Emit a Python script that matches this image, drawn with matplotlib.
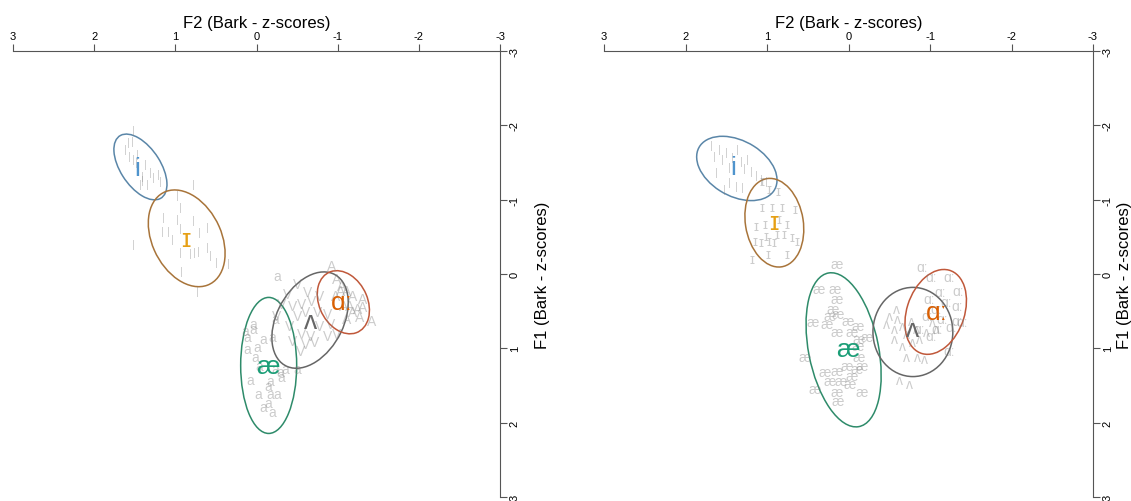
import matplotlib
matplotlib.use("Agg")
import matplotlib.pyplot as plt
from matplotlib.patches import Ellipse

plt.rcParams['font.family'] = ['Liberation Sans', 'DejaVu Sans']

# vowel order and colours
vowels = ['i', 'ɪ', 'æ', 'ʌ', 'ɑː']
mean_colors = ['#4f94cd', '#e6a015', '#1b9e77', '#666666', '#d95f02']
ellipse_colors = ['#5a86a8', '#a8743a', '#2e8b6a', '#666666', '#c0583a']

# ---- left panel: tokens (F2, F1) in Bark z-scores ----
left_i_tokens = [(1.52, -1.94), (1.58, -1.78), (1.56, -1.59), (1.52, -1.55), (1.48, -1.50),
                 (1.46, -1.40), (1.41, -1.32), (1.40, -1.27), (1.31, -1.37), (1.27, -1.31),
                 (1.21, -1.35), (1.34, -1.21), (1.43, -1.21), (1.18, -1.25), (1.53, -1.79),
                 (1.47, -1.62), (1.61, -1.68), (1.37, -1.48)]
left_I_tokens = [(0.78, -1.21), (0.97, -1.06), (0.94, -0.90), (0.98, -0.74), (1.15, -0.77),
                 (1.16, -0.58), (1.09, -0.58), (1.04, -0.47), (0.94, -0.62), (0.78, -0.73),
                 (0.61, -0.63), (0.70, -0.57), (1.52, -0.40), (0.94, -0.30), (0.82, -0.28),
                 (0.76, -0.30), (0.72, -0.31), (0.60, -0.36), (0.57, -0.26), (0.35, -0.15),
                 (0.49, -0.16), (0.92, -0.04), (0.73, 0.23)]
left_ae_tokens = [(-0.25, 0.03), (0.04, 0.67), (0.14, 0.77), (0.12, 0.85), (0.04, 0.74),
                  (-0.08, 0.88), (-0.19, 0.85), (0.12, 1.01), (-0.01, 0.98), (0.02, 1.11),
                  (-0.04, 1.24), (-0.23, 1.28), (-0.29, 1.32), (-0.31, 1.39), (-0.17, 1.44),
                  (0.08, 1.42), (-0.14, 1.51), (-0.17, 1.62), (-0.02, 1.62), (-0.25, 1.62),
                  (-0.14, 1.73), (-0.08, 1.79), (-0.19, 1.86), (-0.35, 1.28), (-0.23, 0.61),
                  (-0.50, 1.28)]
left_v_tokens = [(-0.50, 0.13), (-0.63, 0.24), (-0.38, 0.27), (-0.31, 0.40), (-0.44, 0.43),
                 (-0.56, 0.40), (-0.68, 0.36), (-0.78, 0.30), (-0.50, 0.57), (-0.60, 0.51),
                 (-0.75, 0.51), (-0.87, 0.54), (-0.91, 0.67), (-0.78, 0.70), (-0.66, 0.84),
                 (-0.56, 0.81), (-0.45, 0.90), (-0.60, 0.94), (-0.72, 0.92), (-0.87, 0.84),
                 (-0.99, 0.81), (-0.54, 1.04), (-0.41, 0.70), (-0.25, 0.57)]
left_a_tokens = [(-0.93, -0.11), (-0.99, 0.07), (-1.05, 0.16), (-1.11, 0.23), (-1.19, 0.30),
                 (-1.31, 0.34), (-1.42, 0.63), (-1.27, 0.58), (-1.18, 0.51), (-1.07, 0.43),
                 (-0.97, 0.30), (-1.15, 0.43), (-1.24, 0.47), (-1.11, 0.61), (-1.31, 0.44),
                 (-1.03, 0.23)]
left_token_glyphs = ['|', '|', 'a', 'V', 'A']

left_means = [(1.47, -1.42), (0.87, -0.47), (-0.14, 1.24), (-0.66, 0.63), (-1.05, 0.38)]
# ellipse: centre F2, centre F1, width, height, angle
left_ell_center = [(1.43, -1.44), (0.86, -0.48), (-0.15, 1.23), (-0.66, 0.62), (-1.07, 0.38)]
left_ell_width = [0.98, 1.36, 1.83, 1.37, 0.88]
left_ell_height = [0.50, 0.86, 0.69, 0.83, 0.60]
left_ell_angle = [-60, -68, 90, 66, -69]

# ---- right panel ----
right_i_tokens = [(1.68, -1.73), (1.64, -1.59), (1.58, -1.68), (1.55, -1.55), (1.50, -1.64),
                  (1.46, -1.44), (1.42, -1.58), (1.36, -1.68), (1.31, -1.52), (1.28, -1.42),
                  (1.24, -1.55), (1.19, -1.39), (1.13, -1.33), (1.07, -1.28), (1.46, -1.24),
                  (1.37, -1.19), (1.52, -1.15), (1.30, -1.17), (1.01, -1.25), (1.62, -1.37)]
right_I_tokens = [(1.06, -1.25), (0.97, -1.15), (0.87, -1.12), (1.06, -0.90), (0.94, -0.90),
                  (0.81, -0.90), (0.66, -0.88), (1.13, -0.65), (1.03, -0.67), (0.85, -0.74),
                  (0.76, -0.67), (1.01, -0.51), (0.88, -0.54), (0.79, -0.54), (0.69, -0.50),
                  (1.07, -0.43), (0.97, -0.44), (0.91, -0.43), (1.15, -0.44), (1.19, -0.20),
                  (0.99, -0.27), (0.76, -0.27), (0.63, -0.44)]
right_ae_tokens = [(0.15, -0.13), (0.36, 0.20), (0.17, 0.20), (0.15, 0.34), (0.20, 0.47),
                   (0.23, 0.57), (0.13, 0.54), (0.44, 0.65), (0.27, 0.67), (0.01, 0.63),
                   (-0.11, 0.70), (0.15, 0.78), (-0.04, 0.78), (-0.13, 0.88), (-0.22, 0.85),
                   (0.54, 1.11), (-0.11, 0.97), (-0.13, 1.11), (-0.16, 1.24), (0.29, 1.32),
                   (0.15, 1.31), (0.02, 1.24), (-0.04, 1.37), (0.09, 1.44), (-0.01, 1.48),
                   (0.23, 1.44), (0.42, 1.55), (0.15, 1.59), (-0.16, 1.59), (0.13, 1.71),
                   (-0.10, 1.28)]
right_v_tokens = [(-0.50, 0.57), (-0.60, 0.61), (-0.47, 0.67), (-0.56, 0.74), (-0.66, 0.70),
                  (-0.77, 0.63), (-0.83, 0.74), (-0.71, 0.81), (-0.56, 0.88), (-0.66, 0.97),
                  (-0.79, 0.92), (-0.87, 0.88), (-0.96, 0.78), (-0.71, 1.11), (-0.85, 1.11),
                  (-0.93, 1.15), (-0.75, 1.48), (-0.63, 1.42), (-1.03, 0.65), (-1.08, 0.74),
                  (-0.59, 0.47)]
right_a_tokens = [(-0.91, -0.09), (-1.02, 0.04), (-1.24, 0.04), (-1.34, 0.23), (-1.12, 0.24),
                  (-0.99, 0.34), (-1.20, 0.38), (-1.33, 0.43), (-1.08, 0.47), (-0.96, 0.57),
                  (-1.15, 0.61), (-1.26, 0.71), (-1.09, 0.74), (-1.02, 0.84), (-0.87, 0.74),
                  (-1.24, 1.04), (-1.33, 0.63), (-1.39, 0.65)]
right_token_glyphs = ['|', 'ɪ', 'æ', 'ʌ', 'ɑː']

right_means = [(1.41, -1.44), (0.92, -0.70), (0.01, 1.01), (-0.785, 0.74), (-1.08, 0.51)]
right_ell_center = [(1.37, -1.42), (0.91, -0.69), (0.06, 1.02), (-0.79, 0.78), (-1.07, 0.51)]
right_ell_width = [1.09, 1.20, 2.10, 1.20, 1.17]
right_ell_height = [0.73, 0.71, 0.86, 0.98, 0.71]
right_ell_angle = [-35, -82, -80, 90, 74]

ticks = [3, 2, 1, 0, -1, -2, -3]


def draw_panel(ax, tokens, glyphs, means, centers, widths, heights, angles, ylabelpad):
    ax.set_xlim(3, -3)
    ax.set_ylim(3, -3)
    for toks, glyph in zip(tokens, glyphs):
        size = 8 if glyph == '|' else 10
        for f2, f1 in toks:
            ax.text(f2, f1, glyph, color='#808080', alpha=0.4, fontsize=size,
                    ha='center', va='center')
    for k in range(len(vowels)):
        e = Ellipse(centers[k], widths[k], heights[k], angle=angles[k],
                    fill=False, edgecolor=ellipse_colors[k], linewidth=1.1)
        ax.add_patch(e)
        ax.text(means[k][0], means[k][1], vowels[k], color=mean_colors[k],
                fontsize=19, ha='center', va='center')

    # axes on top and right, like a vowel chart
    ax.xaxis.tick_top()
    ax.xaxis.set_label_position('top')
    ax.yaxis.tick_right()
    ax.yaxis.set_label_position('right')
    ax.set_xticks(ticks)
    ax.set_yticks(ticks)
    ax.set_xticklabels([str(t) for t in ticks])
    ax.set_yticklabels([str(t) for t in ticks])
    ax.spines['left'].set_visible(False)
    ax.spines['bottom'].set_visible(False)
    ax.spines['top'].set_color('#555555')
    ax.spines['right'].set_color('#555555')
    ax.tick_params(direction='out', length=5, width=0.8, color='#555555', labelsize=8, pad=2)
    ax.tick_params(axis='y', labelrotation=90)
    for lab in ax.get_yticklabels():
        lab.set_va('center')
    ax.set_xlabel('F2 (Bark - z-scores)', fontsize=12, labelpad=3)
    ax.set_ylabel('F1 (Bark - z-scores)', fontsize=12, labelpad=ylabelpad)
    ax.patch.set_visible(False)


fig = plt.figure(figsize=(11.31, 5.02), dpi=100)
ax1 = fig.add_axes([13 / 1131, 4 / 502, 487 / 1131, 446 / 502])
ax2 = fig.add_axes([604 / 1131, 4 / 502, 489 / 1131, 446 / 502])

draw_panel(ax1, [left_i_tokens, left_I_tokens, left_ae_tokens, left_v_tokens, left_a_tokens],
           left_token_glyphs, left_means, left_ell_center, left_ell_width,
           left_ell_height, left_ell_angle, 11)
draw_panel(ax2, [right_i_tokens, right_I_tokens, right_ae_tokens, right_v_tokens, right_a_tokens],
           right_token_glyphs, right_means, right_ell_center, right_ell_width,
           right_ell_height, right_ell_angle, 3)

fig.savefig('out.png', dpi=100)
